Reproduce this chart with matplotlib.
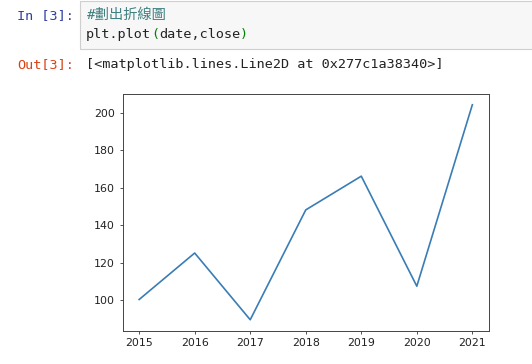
"""
Jupyter-notebook style screenshot: code cell + Line2D repr + line chart of close vs date.
"""

import matplotlib
matplotlib.use("Agg")
import matplotlib.pyplot as plt
from matplotlib.patches import Rectangle

# ---------------------------------------------------------------------------
#  Data
# ---------------------------------------------------------------------------
date = [2015, 2016, 2017, 2018, 2019, 2020, 2021]
close = [100.5, 125.3, 89.7, 148.3, 166.3, 107.6, 204.4]
y_ticks = [100, 120, 140, 160, 180, 200]

# notebook text
in_prompt = "In [3]:"
out_prompt = "Out[3]:"
comment = "#劃出折線圖"
code_parts = [("plt.plot", "#222222"), ("(", "#008000"),
              ("date,close", "#222222"), (")", "#008000")]
out_repr = "[<matplotlib.lines.Line2D at 0x277c1a38340>]"

W, H = 532, 364
DPI = 100
MONO = ["DejaVu Sans Mono", "Noto Sans CJK TC"]
FS_MONO = 9.7                       # -> ~8.1 px per char
CW = 0.602 * FS_MONO * DPI / 72     # char advance in px


def fx(x):
    return x / W


def fy(y):
    return 1 - y / H


fig = plt.figure(figsize=(W / DPI, H / DPI), dpi=DPI)
fig.patch.set_facecolor("white")

# ── code cell box ──
fig.patches.append(Rectangle((fx(80), fy(48.5)), fx(470), 48 / H,
                             transform=fig.transFigure, facecolor="#f7f7f7",
                             edgecolor="#cfcfcf", lw=0.8))

fig.text(fx(17), fy(16), in_prompt, family=MONO, size=FS_MONO,
         color="#303F9F", va="center", ha="left")
fig.text(fx(86), fy(15), comment, family=MONO, size=10.3, style="italic",
         color="#408080", va="center", ha="left")
x = 86
for s, c in code_parts:
    fig.text(fx(x), fy(34.5), s, family=MONO, size=FS_MONO, color=c,
             va="center", ha="left")
    x += len(s) * CW

fig.text(fx(17), fy(64.5), out_prompt, family=MONO, size=FS_MONO,
         color="#D84315", va="center", ha="left")
fig.text(fx(86), fy(64.5), out_repr, family=MONO, size=FS_MONO,
         color="#222222", va="center", ha="left")

# ── the plot ──
left, right, top, bottom = 122.5, 489, 94, 330.5
ax = fig.add_axes([fx(left), fy(bottom), (right - left) / W, (bottom - top) / H])
ax.plot(date, close, color="#3a7db5", lw=1.2)
ax.set_xticks(date)
ax.set_yticks(y_ticks)
ax.tick_params(labelsize=7.9, length=2.3, width=0.6, pad=3.0,
               colors="#333333", labelcolor="#222222")
for sp in ax.spines.values():
    sp.set_linewidth(0.7)
    sp.set_color("#444444")

fig.savefig("out.png", dpi=DPI, facecolor="white")
